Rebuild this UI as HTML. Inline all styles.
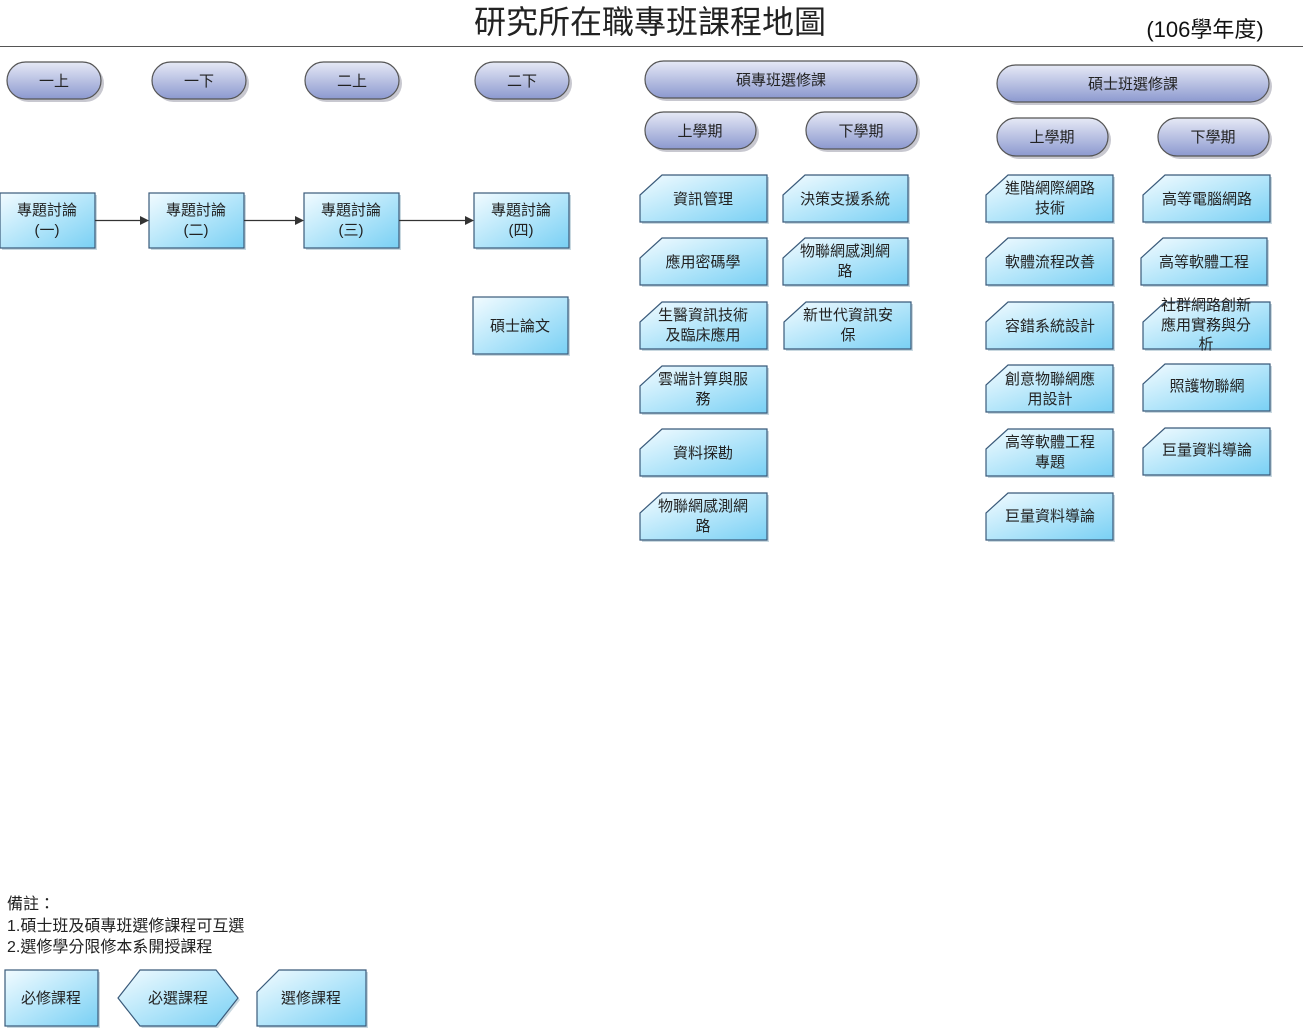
<!DOCTYPE html>
<html><head><meta charset="utf-8"><style>
html,body{margin:0;padding:0;background:#fff;}
svg{display:block;font-family:"Liberation Sans","Noto Sans CJK TC",sans-serif;}
</style></head><body>
<svg width="1303" height="1029" viewBox="0 0 1303 1029" xmlns="http://www.w3.org/2000/svg">
<defs>
<linearGradient id="pill" x1="0" y1="0" x2="0" y2="1"><stop offset="0" stop-color="#e6e9f6"/><stop offset="1" stop-color="#8c99cf"/></linearGradient>
<linearGradient id="box" x1="0" y1="0" x2="1" y2="1"><stop offset="0" stop-color="#f2fbff"/><stop offset="0.5" stop-color="#b5e6fa"/><stop offset="1" stop-color="#79d0f4"/></linearGradient>
</defs>
<text x="650" y="33" font-size="32" text-anchor="middle" fill="#222">研究所在職專班課程地圖</text>
<text x="1205" y="37" font-size="22" text-anchor="middle" fill="#111">(106學年度)</text>
<line x1="0" y1="46.5" x2="1303" y2="46.5" stroke="#555" stroke-width="1"/>

<g font-size="15" text-anchor="middle" fill="#222">
<g stroke="#555" stroke-width="1.2">
<rect x="10" y="65" width="94" height="37" rx="18.5" fill="#c8c8d0" stroke="none"/>
<rect x="7" y="62" width="94" height="37" rx="18.5" fill="url(#pill)"/>
<rect x="155" y="65" width="94" height="37" rx="18.5" fill="#c8c8d0" stroke="none"/>
<rect x="152" y="62" width="94" height="37" rx="18.5" fill="url(#pill)"/>
<rect x="308" y="65" width="94" height="37" rx="18.5" fill="#c8c8d0" stroke="none"/>
<rect x="305" y="62" width="94" height="37" rx="18.5" fill="url(#pill)"/>
<rect x="478" y="65" width="94" height="37" rx="18.5" fill="#c8c8d0" stroke="none"/>
<rect x="475" y="62" width="94" height="37" rx="18.5" fill="url(#pill)"/>
<rect x="648" y="64" width="272" height="37" rx="18.5" fill="#c8c8d0" stroke="none"/>
<rect x="645" y="61" width="272" height="37" rx="18.5" fill="url(#pill)"/>
<rect x="648" y="115" width="111" height="37" rx="18.5" fill="#c8c8d0" stroke="none"/>
<rect x="645" y="112" width="111" height="37" rx="18.5" fill="url(#pill)"/>
<rect x="809" y="115" width="111" height="37" rx="18.5" fill="#c8c8d0" stroke="none"/>
<rect x="806" y="112" width="111" height="37" rx="18.5" fill="url(#pill)"/>
<rect x="1000" y="68" width="272" height="37" rx="18.5" fill="#c8c8d0" stroke="none"/>
<rect x="997" y="65" width="272" height="37" rx="18.5" fill="url(#pill)"/>
<rect x="1000" y="121" width="111" height="38" rx="19" fill="#c8c8d0" stroke="none"/>
<rect x="997" y="118" width="111" height="38" rx="19" fill="url(#pill)"/>
<rect x="1161" y="121" width="111" height="38" rx="19" fill="#c8c8d0" stroke="none"/>
<rect x="1158" y="118" width="111" height="38" rx="19" fill="url(#pill)"/>
</g>
<text x="54" y="86">一上</text><text x="199" y="86">一下</text><text x="352" y="86">二上</text><text x="522" y="86">二下</text>
<text x="781" y="85">碩專班選修課</text><text x="700" y="136">上學期</text><text x="861" y="136">下學期</text>
<text x="1133" y="89">碩士班選修課</text><text x="1052" y="142">上學期</text><text x="1213" y="142">下學期</text>

<g stroke="#3a5a7a" stroke-width="1.2">
<rect x="2" y="195" width="95" height="55" fill="#c8d8e0" stroke="none"/>
<rect x="0" y="193" width="95" height="55" fill="url(#box)"/>
<rect x="151" y="195" width="95" height="55" fill="#c8d8e0" stroke="none"/>
<rect x="149" y="193" width="95" height="55" fill="url(#box)"/>
<rect x="306" y="195" width="95" height="55" fill="#c8d8e0" stroke="none"/>
<rect x="304" y="193" width="95" height="55" fill="url(#box)"/>
<rect x="476" y="195" width="95" height="55" fill="#c8d8e0" stroke="none"/>
<rect x="474" y="193" width="95" height="55" fill="url(#box)"/>
<rect x="475" y="299" width="95" height="57" fill="#c8d8e0" stroke="none"/>
<rect x="473" y="297" width="95" height="57" fill="url(#box)"/>
</g>
<text x="47" y="215">專題討論</text><text x="47" y="235">(一)</text>
<text x="196" y="215">專題討論</text><text x="196" y="235">(二)</text>
<text x="351" y="215">專題討論</text><text x="351" y="235">(三)</text>
<text x="521" y="215">專題討論</text><text x="521" y="235">(四)</text>
<text x="520" y="331">碩士論文</text>
<g stroke="#333" stroke-width="1.2" fill="#333">
<line x1="95" y1="220.5" x2="142" y2="220.5"/><path d="M149,220.5 L140,216 L140,225 Z" stroke="none"/>
<line x1="244" y1="220.5" x2="297" y2="220.5"/><path d="M304,220.5 L295,216 L295,225 Z" stroke="none"/>
<line x1="399" y1="220.5" x2="467" y2="220.5"/><path d="M474,220.5 L465,216 L465,225 Z" stroke="none"/>
</g>

<g stroke="#3a5a7a" stroke-width="1.2">
<path d="M664,177 H769 V224 H642 V197 Z" fill="#c8d8e0" stroke="none"/><path d="M662,175 H767 V222 H640 V195 Z" fill="url(#box)"/>
<path d="M664,240 H769 V287 H642 V260 Z" fill="#c8d8e0" stroke="none"/><path d="M662,238 H767 V285 H640 V258 Z" fill="url(#box)"/>
<path d="M664,304 H769 V351 H642 V324 Z" fill="#c8d8e0" stroke="none"/><path d="M662,302 H767 V349 H640 V322 Z" fill="url(#box)"/>
<path d="M664,368 H769 V415 H642 V388 Z" fill="#c8d8e0" stroke="none"/><path d="M662,366 H767 V413 H640 V386 Z" fill="url(#box)"/>
<path d="M664,431 H769 V478 H642 V451 Z" fill="#c8d8e0" stroke="none"/><path d="M662,429 H767 V476 H640 V449 Z" fill="url(#box)"/>
<path d="M664,495 H769 V542 H642 V515 Z" fill="#c8d8e0" stroke="none"/><path d="M662,493 H767 V540 H640 V513 Z" fill="url(#box)"/>
<path d="M807,177 H910 V224 H785 V197 Z" fill="#c8d8e0" stroke="none"/><path d="M805,175 H908 V222 H783 V195 Z" fill="url(#box)"/>
<path d="M807,240 H910 V287 H785 V260 Z" fill="#c8d8e0" stroke="none"/><path d="M805,238 H908 V285 H783 V258 Z" fill="url(#box)"/>
<path d="M808,304 H913 V351 H786 V324 Z" fill="#c8d8e0" stroke="none"/><path d="M806,302 H911 V349 H784 V322 Z" fill="url(#box)"/>

<path d="M1010,177 H1115 V224 H988 V197 Z" fill="#c8d8e0" stroke="none"/><path d="M1008,175 H1113 V222 H986 V195 Z" fill="url(#box)"/>
<path d="M1010,240 H1115 V287 H988 V260 Z" fill="#c8d8e0" stroke="none"/><path d="M1008,238 H1113 V285 H986 V258 Z" fill="url(#box)"/>
<path d="M1010,304 H1115 V351 H988 V324 Z" fill="#c8d8e0" stroke="none"/><path d="M1008,302 H1113 V349 H986 V322 Z" fill="url(#box)"/>
<path d="M1010,367 H1115 V414 H988 V387 Z" fill="#c8d8e0" stroke="none"/><path d="M1008,365 H1113 V412 H986 V385 Z" fill="url(#box)"/>
<path d="M1010,431 H1115 V478 H988 V451 Z" fill="#c8d8e0" stroke="none"/><path d="M1008,429 H1113 V476 H986 V449 Z" fill="url(#box)"/>
<path d="M1010,495 H1115 V542 H988 V515 Z" fill="#c8d8e0" stroke="none"/><path d="M1008,493 H1113 V540 H986 V513 Z" fill="url(#box)"/>
<path d="M1167,177 H1272 V224 H1145 V197 Z" fill="#c8d8e0" stroke="none"/><path d="M1165,175 H1270 V222 H1143 V195 Z" fill="url(#box)"/>
<path d="M1165,240 H1269 V287 H1143 V260 Z" fill="#c8d8e0" stroke="none"/><path d="M1163,238 H1267 V285 H1141 V258 Z" fill="url(#box)"/>
<path d="M1167,304 H1272 V351 H1145 V324 Z" fill="#c8d8e0" stroke="none"/><path d="M1165,302 H1270 V349 H1143 V322 Z" fill="url(#box)"/>
<path d="M1167,366 H1272 V413 H1145 V386 Z" fill="#c8d8e0" stroke="none"/><path d="M1165,364 H1270 V411 H1143 V384 Z" fill="url(#box)"/>
<path d="M1167,430 H1272 V477 H1145 V450 Z" fill="#c8d8e0" stroke="none"/><path d="M1165,428 H1270 V475 H1143 V448 Z" fill="url(#box)"/>
</g>
<text x="703" y="204">資訊管理</text>
<text x="703" y="267">應用密碼學</text>
<text x="703" y="320">生醫資訊技術</text><text x="703" y="340">及臨床應用</text>
<text x="703" y="384">雲端計算與服</text><text x="703" y="404">務</text>
<text x="703" y="458">資料探勘</text>
<text x="703" y="511">物聯網感測網</text><text x="703" y="531">路</text>
<text x="845" y="204">決策支援系統</text>
<text x="845" y="256">物聯網感測網</text><text x="845" y="276">路</text>
<text x="848" y="320">新世代資訊安</text><text x="848" y="340">保</text>

<text x="1050" y="193">進階網際網路</text><text x="1050" y="213">技術</text>
<text x="1050" y="267">軟體流程改善</text>
<text x="1050" y="331">容錯系統設計</text>
<text x="1050" y="384">創意物聯網應</text><text x="1050" y="404">用設計</text>
<text x="1050" y="447">高等軟體工程</text><text x="1050" y="467">專題</text>
<text x="1050" y="521">巨量資料導論</text>
<text x="1207" y="204">高等電腦網路</text>
<text x="1204" y="267">高等軟體工程</text>
<text x="1206" y="310">社群網路創新</text><text x="1206" y="330">應用實務與分</text><text x="1206" y="349">析</text>
<text x="1207" y="391">照護物聯網</text>
<text x="1207" y="455">巨量資料導論</text>
</g>

<g font-size="16" fill="#222">
<text x="7" y="909">備註：</text>
<text x="7" y="931">1.碩士班及碩專班選修課程可互選</text>
<text x="7" y="952">2.選修學分限修本系開授課程</text>
</g>
<g stroke="#3a5a7a" stroke-width="1.2">
<rect x="7" y="972" width="93" height="56" fill="#c8d8e0" stroke="none"/>
<rect x="5" y="970" width="93" height="56" fill="url(#box)"/>
<path d="M142,972 H218 L240,1000 L218,1028 H142 L120,1000 Z" fill="#c8d8e0" stroke="none"/>
<path d="M140,970 H216 L238,998 L216,1026 H140 L118,998 Z" fill="url(#box)"/>
<path d="M281,972 H368 V1028 H259 V994 Z" fill="#c8d8e0" stroke="none"/>
<path d="M279,970 H366 V1026 H257 V992 Z" fill="url(#box)"/>
</g>
<g font-size="15" text-anchor="middle" fill="#222">
<text x="51" y="1003">必修課程</text>
<text x="178" y="1003">必選課程</text>
<text x="311" y="1003">選修課程</text>
</g>
</svg>
</body></html>
